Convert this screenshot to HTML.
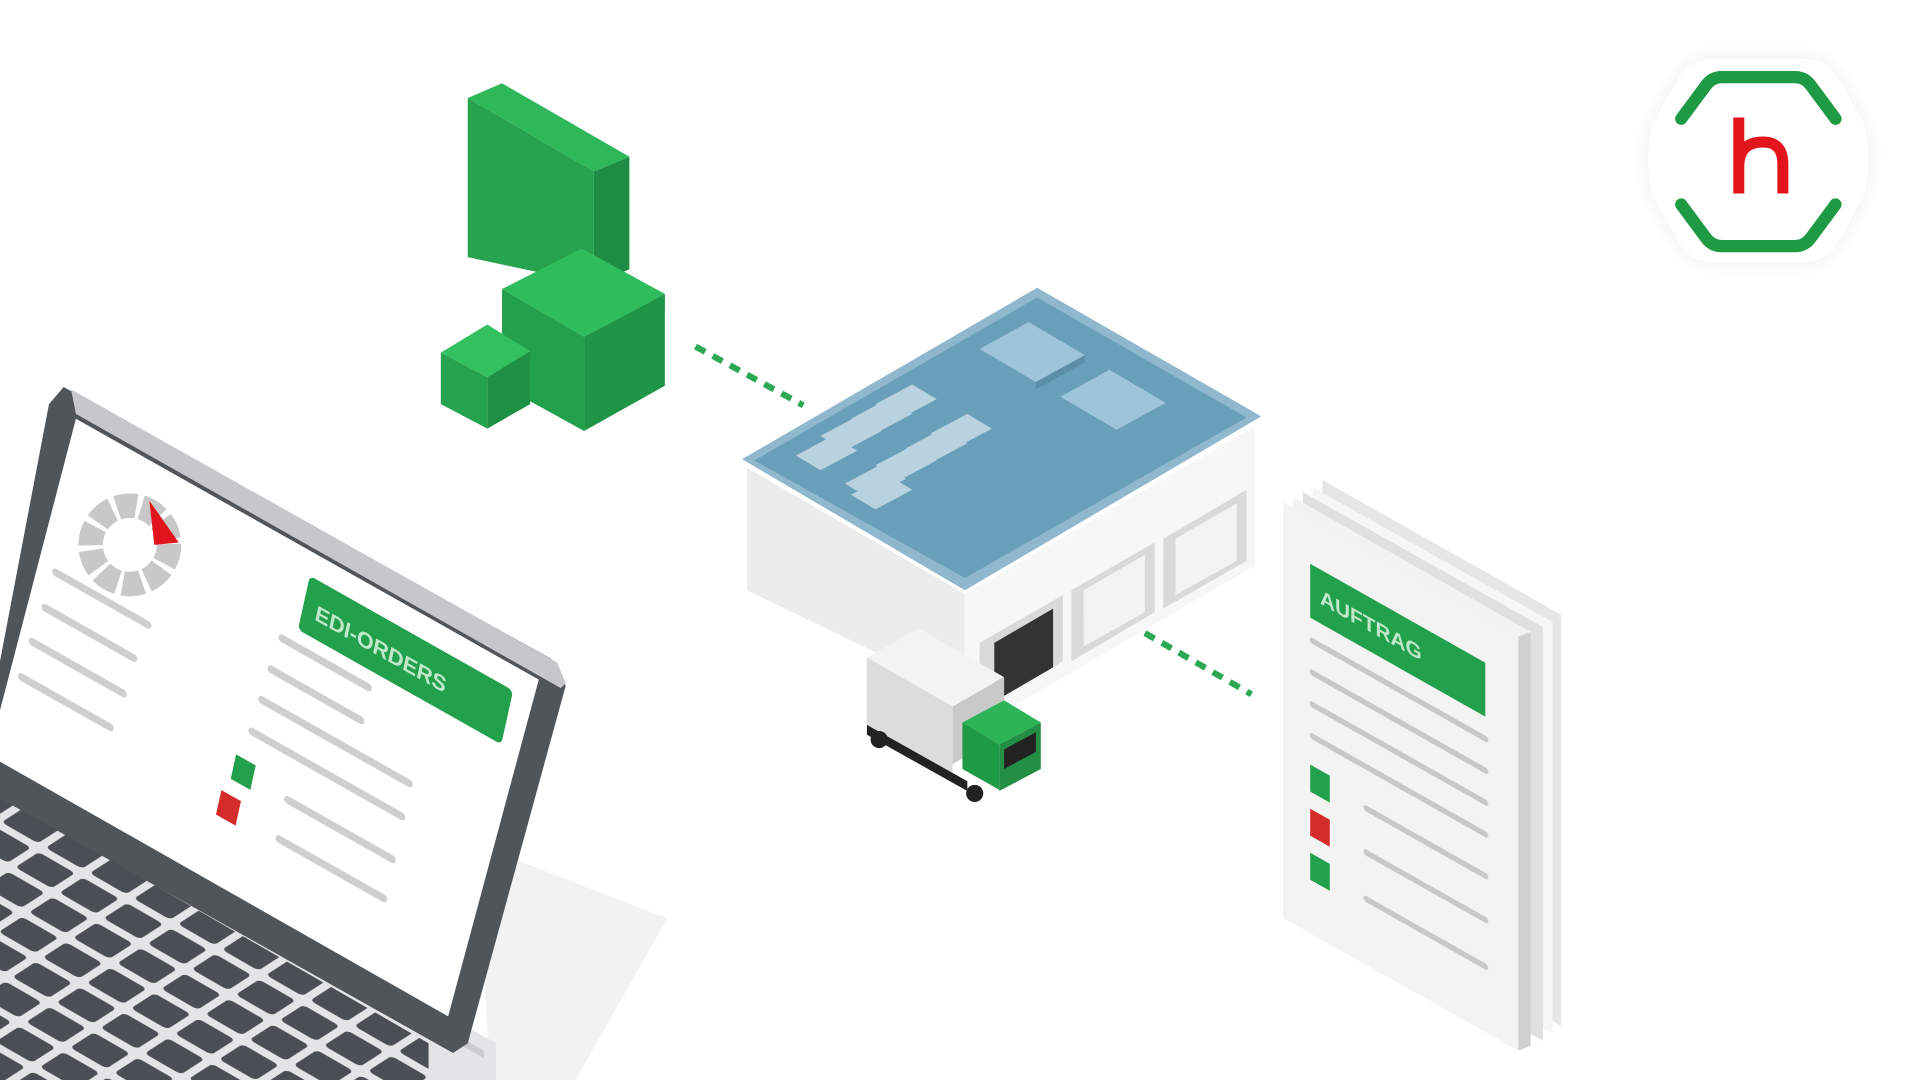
<!DOCTYPE html>
<html><head><meta charset="utf-8"><style>
html,body{margin:0;padding:0;background:#fff;width:1920px;height:1080px;overflow:hidden}
svg{display:block}
text{font-family:"Liberation Sans",sans-serif;font-weight:bold}
</style></head><body>
<svg width="1920" height="1080" viewBox="0 0 1568 882" xmlns="http://www.w3.org/2000/svg">
<defs>
<filter id="sh" x="-30%" y="-30%" width="160%" height="160%"><feGaussianBlur stdDeviation="8"/></filter>
<pattern id="keys" width="40" height="40" patternUnits="userSpaceOnUse" patternTransform="matrix(0.9,0.52,-0.62,0.4,20,655)">
<rect x="4" y="5" width="33" height="31" rx="4" fill="#4a4f55"/>
</pattern>
</defs>
<rect width="1568" height="882" fill="#fff"/>

<!-- logo -->
<path d="M1400 48 L1472 48 Q1490 48 1500 62 L1522 100 Q1530 130 1522 160 L1500 200 Q1490 214 1472 214 L1400 214 Q1382 214 1372 200 L1350 160 Q1342 130 1350 100 L1372 62 Q1382 48 1400 48Z" fill="#eee" filter="url(#sh)"/>
<path d="M1400 48 L1472 48 Q1490 48 1500 62 L1522 100 Q1530 130 1522 160 L1500 200 Q1490 214 1472 214 L1400 214 Q1382 214 1372 200 L1350 160 Q1342 130 1350 100 L1372 62 Q1382 48 1400 48Z" fill="#fff"/>
<path d="M1373 97 L1393 70 Q1398 63 1406 63 L1466 63 Q1474 63 1479 70 L1499 97" fill="none" stroke="#1f9a44" stroke-width="10" stroke-linecap="round" stroke-linejoin="round"/>
<path d="M1373 167 L1393 194 Q1398 201 1406 201 L1466 201 Q1474 201 1479 194 L1499 167" fill="none" stroke="#1f9a44" stroke-width="10" stroke-linecap="round" stroke-linejoin="round"/>
<path d="M1420 96 V158 M1420 136 Q1420 116 1440 116 Q1456 116 1456 134 V158" fill="none" stroke="#e2141c" stroke-width="9"/>

<!-- cubes -->
<polygon points="382,80 410,68 514,128 485,140" fill="#2fb85a"/>
<polygon points="382,80 485,140 485,232 382,210" fill="#27a24f"/>
<polygon points="485,140 514,128 514,220 485,232" fill="#1f8c43"/>
<polygon points="410,236 475,203 543,240 477,275" fill="#2fbc5c"/>
<polygon points="410,236 477,275 477,352 410,315" fill="#22a04b"/>
<polygon points="477,275 543,240 543,315 477,352" fill="#1e9646"/>
<polygon points="360,288 398,265 433,287 398,308" fill="#33c060"/>
<polygon points="360,288 398,308 398,350 360,330" fill="#26a34f"/>
<polygon points="398,308 433,287 433,330 398,350" fill="#1d9044"/>

<!-- dashed -->
<line x1="568" y1="283" x2="656" y2="331" stroke="#2aa852" stroke-width="5" stroke-dasharray="9,7"/>
<line x1="935" y1="517" x2="1022" y2="567" stroke="#2aa852" stroke-width="5" stroke-dasharray="9,7"/>

<!-- warehouse -->
<polygon points="610,382 788,485 788,568 610,482" fill="#ececec"/>
<polygon points="788,485 1025,348 1025,462 788,600" fill="#f7f7f7"/>
<polygon points="606,375 847,235 1030,340 788,482" fill="#8fb7cd"/>
<polygon points="616,376 847,243 1018,341 788,472" fill="#6a9fba"/>
<polygon points="800,285 840,263 886,290 846,312" fill="#9ec4dc"/>
<polygon points="866,324 906,302 952,329 912,351" fill="#9ec4dc"/>
<polygon points="846,312 886,290 886,296 846,318" fill="#5d8ea8"/>
<g fill="#b9d2e0">
<polygon points="650,372 680,356 700,368 670,384"/>
<polygon points="670,356 700,340 720,352 690,368"/>
<polygon points="695,342 725,326 745,338 715,354"/>
<polygon points="715,330 745,314 765,326 735,342"/>
<polygon points="690,395 720,379 740,391 710,407"/>
<polygon points="715,380 745,364 765,376 735,392"/>
<polygon points="740,366 770,350 790,362 760,378"/>
<polygon points="760,354 790,338 810,350 780,366"/>
<polygon points="695,404 725,388 745,400 715,416"/>
</g>
<!-- doors -->
<polygon points="800,525 868,486 868,540 800,580" fill="#d9d9d9"/>
<polygon points="812,525 860,497 860,545 812,573" fill="#333"/>
<polygon points="875,482 943,443 943,500 875,540" fill="#d9d9d9"/>
<polygon points="885,482 935,453 935,500 885,528" fill="#f3f3f3"/>
<polygon points="950,440 1018,400 1018,458 950,497" fill="#d9d9d9"/>
<polygon points="960,440 1010,411 1010,458 960,486" fill="#f3f3f3"/>

<!-- truck -->
<polygon points="708,537 750,513 820,553 778,577" fill="#f3f3f3"/>
<polygon points="708,537 778,577 778,632 708,592" fill="#dcdcdc"/>
<polygon points="778,577 820,553 820,600 778,624" fill="#c9c9c9"/>
<polygon points="708,592 790,638 790,646 708,600" fill="#222"/>
<polygon points="786,590 820,572 850,590 816,608" fill="#2cb456"/>
<polygon points="786,590 816,608 816,645 786,628" fill="#1f9a44"/>
<polygon points="816,608 850,590 850,628 816,646" fill="#228f45"/>
<polygon points="820,612 846,598 846,614 820,628" fill="#222"/>
<circle cx="718" cy="604" r="7" fill="#222"/><circle cx="796" cy="648" r="7" fill="#222"/>

<!-- document stack -->
<polygon points="1080,392 1275,502 1275,838 1080,728" fill="#e6e6e6"/>
<polygon points="1072,398 1268,508 1268,844 1072,734" fill="#f6f6f6"/>
<polygon points="1064,402 1260,512 1260,850 1064,740" fill="#e0e0e0"/>
<polygon points="1056,406 1250,516 1250,854 1056,744" fill="#f2f2f2"/>
<polygon points="1048,410 1240,520 1240,858 1048,750" fill="#f3f3f3"/>
<polygon points="1240,520 1250,516 1250,854 1240,858" fill="#d0d0d0"/>
<g transform="matrix(1,0.565,0,1,1048,410)">
<rect x="22" y="38" width="143" height="44" fill="#22a04b"/>
<text x="30" y="66" fill="#bfe8c8" font-size="17">AUFTRAG</text>
<g stroke="#c8c8c8" stroke-width="5" stroke-linecap="round">
<line x1="24" y1="100" x2="165" y2="100"/>
<line x1="24" y1="126" x2="165" y2="126"/>
<line x1="24" y1="152" x2="165" y2="152"/>
<line x1="24" y1="178" x2="165" y2="178"/>
<line x1="68" y1="212" x2="165" y2="212"/>
<line x1="68" y1="248" x2="165" y2="248"/>
<line x1="68" y1="286" x2="165" y2="286"/>
</g>
<rect x="22" y="202" width="16" height="22" fill="#22a04b"/>
<rect x="22" y="238" width="16" height="22" fill="#d42b2b"/>
<rect x="22" y="274" width="16" height="22" fill="#22a04b"/>
</g>

<!-- laptop shadow -->
<polygon points="390,690 545,750 470,882 400,882" fill="#f2f2f2"/>
<!-- laptop base -->
<polygon points="0,620 405,852 405,882 0,882" fill="#e3e4e6"/>
<polygon points="0,632 395,858 395,864 0,638" fill="#c9cbcf"/>
<polygon points="0,650 350,852 350,882 0,882" fill="url(#keys)"/>
<!-- screen bezel -->
<polygon points="52,316 450,538 462,560 382,852 370,860 0,652 0,540 40,330" fill="#50555a"/>
<polygon points="58,318 455,541 462,558 458,562 62,338" fill="#c5c7ca"/>
<polygon points="62,342 440,555 366,830 0,622 0,580" fill="#fff"/>
<g transform="matrix(1,0.565,-0.22,1,62,342)">
<rect x="195" y="18" width="166" height="44" rx="4" fill="#22a04b"/>
<text x="205" y="48" fill="#bfe8c8" font-size="17">EDI-ORDERS</text>
<g stroke="#cfcfcf" stroke-width="6" stroke-linecap="round">
<line x1="10" y1="120" x2="85" y2="120"/>
<line x1="8" y1="150" x2="80" y2="150"/>
<line x1="4" y1="180" x2="78" y2="180"/>
<line x1="2" y1="210" x2="74" y2="210"/>
<line x1="185" y1="75" x2="255" y2="75"/>
<line x1="182" y1="102" x2="255" y2="102"/>
<line x1="180" y1="128" x2="300" y2="128"/>
<line x1="178" y1="155" x2="300" y2="155"/>
<line x1="215" y1="190" x2="300" y2="190"/>
<line x1="215" y1="222" x2="300" y2="222"/>
</g>
<rect x="170" y="178" width="16" height="20" fill="#22a04b"/>
<rect x="165" y="210" width="16" height="20" fill="#d42b2b"/>
</g>
<!-- segmented circle icon -->
<g transform="translate(106,445)">
<circle r="32" fill="none" stroke="#c8c8c8" stroke-width="20" stroke-dasharray="16,4"/>
<polygon points="16,-36 40,-2 20,0" fill="#e2141c"/>
</g>
</svg>
</body></html>
